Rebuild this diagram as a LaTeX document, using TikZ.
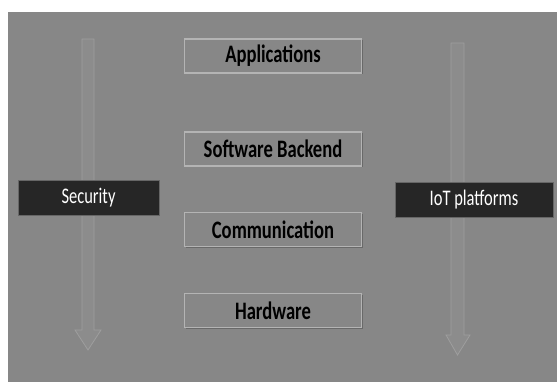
\documentclass[tikz,border=0pt]{standalone}
\usepackage{fontspec}
\setmainfont{Carlito}
\usetikzlibrary{shadows}
\definecolor{bggray}{HTML}{878787}
\definecolor{boxline}{HTML}{B4B4B4}
\definecolor{arrowline}{HTML}{9E9E9E}
\definecolor{arrowfill}{HTML}{8C8C8C}
\definecolor{darkbox}{HTML}{262626}
\newcommand\tallText[1]{\raisebox{-1.5pt}{\scalebox{1}[1.35]{#1}}}
\tikzset{
  layerbox/.style={draw=boxline, line width=1.2pt, fill=bggray, minimum width=177pt, minimum height=34pt,
    inner sep=0pt, font=\fontsize{18.6}{22}\selectfont\bfseries, text=black,
    drop shadow={shadow xshift=1pt, shadow yshift=-1.2pt, fill=black!70, opacity=0.5}},
  sidebox/.style={draw=black!60, line width=0.6pt, fill=darkbox, minimum height=35pt, inner sep=0pt,
    font=\fontsize{16.5}{20}\selectfont, text=white},
  bigarrow/.style={draw=arrowline, line width=0.8pt, fill=arrowfill}
}
\begin{document}
\begin{tikzpicture}[x=1pt,y=-1pt]
\useasboundingbox (0,0) rectangle (557,382);
\fill[white] (0,0) rectangle (557,382);
\fill[bggray] (8,12) rectangle (557,382);
% left arrow
\draw[bigarrow] (82,39) -- (94,39) -- (94,330) -- (101,330) -- (88,350) -- (75,330) -- (82,330) -- cycle;
% right arrow
\draw[bigarrow] (451,43) -- (464,43) -- (464,335) -- (470,335) -- (457.5,355) -- (446,335) -- (451,335) -- cycle;
% layers
\node[layerbox] (app) at (273,56) {\tallText{Applications}};
\node[layerbox] (soft) at (273,149) {\tallText{Software Backend}};
\node[layerbox] (comm) at (273,229.5) {\tallText{Communication}};
\node[layerbox] (hw) at (273,310.5) {\tallText{Hardware}};
% side boxes
\node[sidebox, minimum width=141pt] (sec) at (88.5,197.5) {\tallText{Security}};
\node[sidebox, minimum width=158pt] (iot) at (474,199.5) {\tallText{IoT platforms}};
\end{tikzpicture}
\end{document}
